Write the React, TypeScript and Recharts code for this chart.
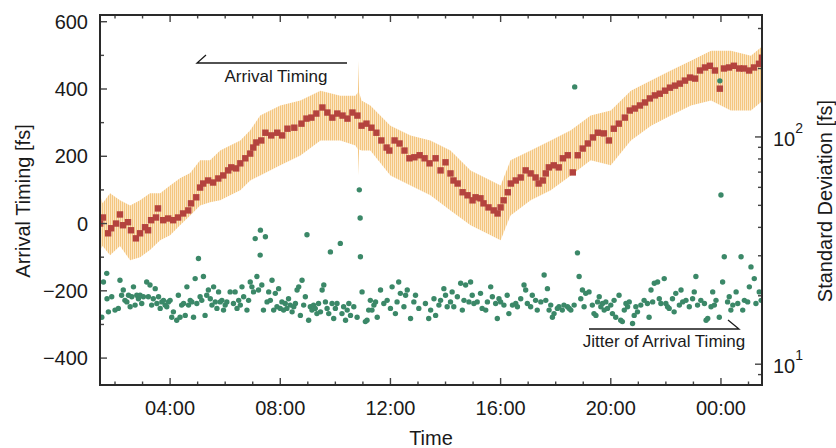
import React from "react";
import { ComposedChart, Area, Scatter, XAxis, YAxis } from "recharts";

// arrival timing (averaged), hours since midnight / fs
const timingHours = [
  1.46, 1.56, 1.75, 1.86, 2.04, 2.18, 2.29, 2.47, 2.58, 2.76, 2.91, 3.09, 3.2, 3.31, 3.49, 3.56, 3.75, 3.93,
  4.11, 4.29, 4.47, 4.66, 4.76, 4.95, 5.09, 5.2, 5.38, 5.56, 5.75, 5.93, 6.11, 6.22, 6.4, 6.55, 6.73, 6.91,
  7.02, 7.13, 7.31, 7.46, 7.67, 7.89, 8.07, 8.26, 8.51, 8.77, 8.95, 9.13, 9.31, 9.53, 9.71, 9.89, 10.07,
  10.26, 10.44, 10.62, 10.8, 10.95, 11.13, 11.31, 11.49, 11.67, 11.86, 11.96, 12.15, 12.33, 12.51, 12.69,
  12.87, 13.06, 13.24, 13.42, 13.64, 13.82, 14.0, 14.18, 14.29, 14.44, 14.62, 14.8, 14.98, 15.09, 15.27,
  15.38, 15.56, 15.75, 15.89, 16.0, 16.11, 16.26, 16.37, 16.55, 16.73, 16.91, 17.09, 17.27, 17.38, 17.53,
  17.64, 17.75, 17.93, 18.11, 18.26, 18.44, 18.62, 18.8, 18.98, 19.17, 19.35, 19.53, 19.75, 19.93, 20.11,
  20.29, 20.51, 20.69, 20.87, 21.06, 21.24, 21.42, 21.6, 21.78, 21.97, 22.15, 22.33, 22.51, 22.69, 22.88,
  23.06, 23.24, 23.42, 23.6, 23.78, 23.96, 24.11, 24.29, 24.47, 24.66, 24.84, 25.02, 25.2, 25.38, 25.49,
];
const timingFs = [
  0, 18, -29, -14, 0, 27, -5, 4, -20, -44, -29, -11, -20, 10, 18, 45, 10, 15,
  10, 18, 30, 39, 60, 78, 107, 119, 128, 122, 134, 143, 158, 167, 164, 179, 194, 208,
  226, 241, 247, 270, 262, 270, 262, 282, 285, 297, 312, 315, 327, 345, 330, 315, 327,
  321, 312, 330, 321, 291, 297, 285, 270, 247, 226, 217, 247, 238, 217, 194,
  197, 203, 194, 179, 194, 158, 182, 149, 128, 119, 93, 84, 69, 78, 75,
  60, 48, 39, 30, 48, 69, 93, 119, 128, 137, 158, 149, 137, 119, 128,
  149, 167, 173, 167, 194, 203, 152, 203, 223, 238, 256, 270, 268, 247, 282,
  297, 315, 336, 342, 351, 360, 372, 381, 386, 395, 404, 410, 416, 425, 434,
  431, 455, 464, 469, 455, 401, 461, 464, 469, 461, 461, 455, 464, 475, 493,
];

// spread of the raw arrival timing samples
const bandHours = [
  1.46, 1.55, 1.82, 2.18, 2.55, 2.91, 3.27, 3.64, 4.0, 4.36, 4.73, 5.09, 5.45, 5.82, 6.18, 6.55, 6.91,
  7.27, 8.0, 8.73, 9.46, 10.18, 10.73, 10.82, 10.84, 10.86, 10.95,
  11.27, 12.0, 12.73, 13.45, 14.18, 14.91, 15.64, 16.0, 16.36, 17.09, 17.82, 18.55, 19.27, 20.0, 20.73,
  21.46, 22.18, 22.91, 23.64, 24.36, 25.09, 25.53,
];
const bandLow = [
  -79, -67, -94, -67, -109, -100, -79, -50, -35, -5, 24, 54, 63, 69, 84, 99, 128,
  143, 173, 202, 247, 247, 232, 220, 143, 220, 217,
  217, 143, 113, 84, 39, -5, -35, -50, 24, 69, 99, 143, 188, 173, 247,
  291, 321, 351, 366, 336, 336, 366,
];
const bandHigh = [
  84, 60, 90, 69, 54, 69, 90, 90, 113, 135, 150, 188, 188, 217, 232, 247, 277,
  321, 351, 366, 395, 380, 380, 390, 484, 390, 366,
  351, 291, 262, 247, 217, 158, 128, 113, 188, 217, 247, 277, 321, 336, 395,
  425, 455, 484, 514, 514, 499, 529,
];

// jitter (standard deviation), hours / fs
const jitterHours = [
  1.52, 1.58, 1.7, 1.71, 1.76, 1.88, 2.0, 2.12, 2.18, 2.24, 2.3, 2.36, 2.43, 2.49, 2.55, 2.61, 2.67, 2.73,
  2.79, 2.85, 2.91, 2.97, 3.03, 3.15, 3.21, 3.27, 3.33, 3.39, 3.46, 3.52, 3.58, 3.64, 3.7, 3.76, 3.82, 3.88,
  3.94, 4.0, 4.06, 4.12, 4.24, 4.3, 4.36, 4.42, 4.49, 4.55, 4.61, 4.67, 4.73, 4.79, 4.85, 4.91, 4.97, 5.03,
  5.09, 5.15, 5.21, 5.27, 5.33, 5.39, 5.46, 5.52, 5.58, 5.64, 5.7, 5.76, 5.82, 5.88, 5.94, 6.0, 6.06, 6.18,
  6.3, 6.36, 6.43, 6.49, 6.55, 6.61, 6.67, 6.79, 6.85, 6.91, 6.97, 7.03, 7.09, 7.15, 7.21, 7.27, 7.28, 7.33,
  7.39, 7.46, 7.52, 7.58, 7.64, 7.7, 7.76, 7.82, 7.88, 7.94, 8.0, 8.06, 8.12, 8.18, 8.24, 8.3, 8.36, 8.43,
  8.49, 8.55, 8.61, 8.67, 8.73, 8.79, 8.85, 8.91, 8.97, 9.03, 9.09, 9.15, 9.21, 9.27, 9.33, 9.39, 9.46,
  9.52, 9.58, 9.64, 9.7, 9.76, 9.82, 9.88, 9.94, 10.0, 10.06, 10.18, 10.24, 10.3, 10.37, 10.43, 10.49,
  10.55, 10.67, 10.79, 10.87, 10.9, 10.91, 10.97, 11.09, 11.15, 11.21, 11.27, 11.33, 11.4, 11.46, 11.52,
  11.64, 11.76, 11.88, 12.0, 12.06, 12.18, 12.24, 12.3, 12.36, 12.49, 12.55, 12.61, 12.73, 12.85, 12.91,
  13.03, 13.27, 13.39, 13.46, 13.58, 13.64, 13.76, 13.82, 13.94, 14.0, 14.06, 14.18, 14.24, 14.3, 14.43,
  14.55, 14.61, 14.67, 14.73, 14.85, 14.91, 14.97, 15.03, 15.15, 15.27, 15.33, 15.46, 15.52, 15.64, 15.7,
  15.82, 15.88, 15.94, 16.0, 16.12, 16.24, 16.3, 16.43, 16.55, 16.61, 16.73, 16.85, 16.91, 16.97, 17.09,
  17.15, 17.27, 17.33, 17.46, 17.58, 17.64, 17.7, 17.76, 17.82, 17.88, 17.94, 18.06, 18.12, 18.24, 18.3,
  18.43, 18.49, 18.55, 18.67, 18.69, 18.79, 18.85, 18.91, 18.97, 19.03, 19.09, 19.21, 19.33, 19.39, 19.46,
  19.52, 19.58, 19.64, 19.7, 19.76, 19.82, 19.88, 20.0, 20.06, 20.12, 20.18, 20.3, 20.36, 20.42, 20.49,
  20.55, 20.61, 20.67, 20.79, 20.85, 20.91, 20.97, 21.09, 21.21, 21.33, 21.39, 21.46, 21.52, 21.58, 21.7,
  21.76, 21.82, 21.94, 22.0, 22.06, 22.12, 22.24, 22.3, 22.36, 22.49, 22.55, 22.61, 22.73, 22.85, 22.97,
  23.03, 23.09, 23.15, 23.27, 23.4, 23.46, 23.52, 23.64, 23.7, 23.76, 23.82, 23.94, 23.96, 24.0, 24.06,
  24.12, 24.24, 24.3, 24.36, 24.43, 24.55, 24.61, 24.73, 24.79, 24.85, 24.97, 25.03, 25.09, 25.21, 25.27,
  25.39, 25.46,
];
const jitterFs = [
  16.1, 23.0, 25.1, 19.4, 17.0, 19.8, 17.3, 17.6, 23.4, 20.1, 21.2, 19.1, 18.8, 20.1, 17.9, 19.8, 21.9, 18.2,
  20.1, 19.4, 20.1, 18.5, 19.8, 23.0, 19.8, 22.3, 18.2, 19.4, 21.5, 18.5, 19.8, 17.6, 18.8, 19.1, 18.2, 17.9,
  18.8, 19.1, 16.1, 17.0, 15.6, 20.1, 16.1, 18.2, 18.5, 16.4, 21.9, 18.2, 19.1, 18.8, 16.1, 23.8, 18.5, 29.2,
  19.8, 19.1, 24.3, 16.4, 20.1, 21.2, 19.4, 18.2, 21.9, 18.8, 17.6, 20.8, 18.8, 19.1, 17.3, 18.2, 18.8, 20.8,
  18.5, 20.8, 17.6, 19.1, 18.2, 21.9, 19.8, 17.3, 19.1, 23.0, 21.9, 20.8, 35.7, 24.3, 21.2, 30.2, 38.9, 22.3,
  17.3, 36.4, 18.8, 20.8, 19.1, 23.4, 17.3, 20.5, 17.9, 21.5, 17.6, 18.8, 17.3, 18.5, 17.6, 19.4, 18.2, 17.0,
  17.9, 18.5, 21.2, 21.9, 16.4, 23.4, 18.2, 19.8, 37.1, 15.6, 17.9, 17.3, 18.2, 17.6, 16.7, 18.5, 17.0,
  21.2, 22.3, 18.8, 17.6, 16.7, 31.2, 18.5, 15.9, 17.6, 18.5, 34.0, 16.7, 17.9, 15.6, 17.3, 18.5,
  16.4, 17.9, 16.1, 58.5, 44.0, 29.7, 20.8, 15.4, 15.6, 17.3, 19.1, 17.3, 18.2, 18.8, 16.1,
  21.2, 18.5, 19.1, 17.6, 21.9, 16.7, 18.8, 23.0, 20.5, 17.9, 20.1, 21.2, 15.9, 18.8, 20.1,
  17.6, 18.5, 15.9, 17.3, 19.4, 16.4, 18.2, 19.1, 21.5, 20.1, 17.9, 18.8, 20.8, 17.9, 19.8,
  22.7, 17.3, 19.1, 22.3, 18.8, 23.0, 20.1, 18.5, 18.8, 20.5, 17.6, 17.3, 18.8, 21.9, 19.8,
  18.5, 15.9, 19.4, 18.8, 18.2, 20.1, 16.7, 18.2, 18.5, 17.9, 19.4, 22.3, 21.2, 18.5, 17.9,
  20.1, 19.1, 17.3, 18.8, 24.7, 19.1, 21.5, 17.3, 18.2, 16.1, 16.7, 17.6, 17.9, 17.3, 18.2,
  17.9, 17.6, 17.3, 18.2, 166, 30.9, 24.3, 19.4, 21.2, 17.9, 20.5, 20.8, 18.2, 16.7, 16.4,
  18.8, 19.8, 17.9, 18.5, 17.3, 18.8, 17.6, 18.2, 16.7, 19.1, 16.1, 20.1, 15.6, 15.4, 17.3,
  18.5, 17.9, 18.8, 15.1, 16.4, 17.9, 17.0, 18.2, 19.1, 18.5, 16.1, 21.2, 18.8, 22.7, 23.0,
  19.4, 18.5, 23.8, 18.5, 17.9, 17.6, 19.4, 17.0, 20.5, 18.2, 21.2, 18.8, 19.1, 17.9, 19.4,
  20.8, 24.3, 18.2, 19.1, 18.5, 15.6, 15.9, 17.9, 20.8, 18.2, 19.1, 16.1, 176.5, 55.5, 23.0,
  29.7, 18.8, 19.8, 17.3, 18.2, 20.8, 18.5, 29.7, 17.3, 19.1, 18.8, 21.9, 26.8, 23.8, 18.5,
  20.8, 19.1,
];

const hourTicks = [2, 3, 4, 5, 6, 7, 8, 9, 10, 11, 12, 13, 14, 15, 16, 17, 18, 19, 20, 21, 22, 23, 24, 25];
const majorHours = [4, 8, 12, 16, 20, 24];
const timingTicks = [-400, -300, -200, -100, 0, 100, 200, 300, 400, 500, 600];
const timingLabelled = [-400, -200, 0, 200, 400, 600];
const jitterTicks = [9, 10, 20, 30, 40, 50, 60, 70, 80, 90, 100, 200, 300];
const jitterLabelled = [10, 100];

const timingData = timingHours.map((t, i) => ({ t, v: timingFs[i] }));
const bandData = bandHours.map((t, i) => ({ t, lo: bandLow[i], hi: bandHigh[i] }));
const jitterData = jitterHours.map((t, i) => ({ t, s: jitterFs[i] }));

const FONT = "'Liberation Sans', Arial, Helvetica, sans-serif";
const INK = "#1a1a1a";
const TICK = "#444";
const PLOT_H = 370;

const hh = (h: number) => String(h % 24).padStart(2, "0") + ":00";

function TimeTick({ x, y, payload }: any) {
  const major = majorHours.includes(payload.value);
  const len = major ? 7 : 3.5;
  return (
    <g>
      <line x1={x} x2={x} y1={y} y2={y - len} stroke={TICK} strokeWidth={1.4} />
      <line x1={x} x2={x} y1={y - PLOT_H} y2={y - PLOT_H + len} stroke={TICK} strokeWidth={1.4} />
      {major && (
        <text x={x} y={y + 30} textAnchor="middle" fontFamily={FONT} fontSize={20} fill={INK}>
          {hh(payload.value)}
        </text>
      )}
    </g>
  );
}

function TimingTick({ x, y, payload }: any) {
  const major = timingLabelled.includes(payload.value);
  const v = payload.value;
  return (
    <g>
      <line x1={x} x2={x + (major ? 7 : 4)} y1={y} y2={y} stroke={TICK} strokeWidth={1.4} />
      {major && (
        <text x={x - 12} y={y + 7} textAnchor="end" fontFamily={FONT} fontSize={20} fill={INK}>
          {v < 0 ? "\u2212" + Math.abs(v) : v}
        </text>
      )}
    </g>
  );
}

function JitterTick({ x, y, payload }: any) {
  const major = jitterLabelled.includes(payload.value);
  return (
    <g>
      <line x1={x} x2={x - (major ? 7 : 4)} y1={y} y2={y} stroke={TICK} strokeWidth={1.4} />
      {major && (
        <text x={x + 11} y={y + 9} fontFamily={FONT} fontSize={20} fill={INK}>
          10
          <tspan fontSize={14} dy={-13}>
            {Math.round(Math.log10(payload.value))}
          </tspan>
        </text>
      )}
    </g>
  );
}

function RedSquare({ cx, cy }: any) {
  return <rect x={cx - 3.2} y={cy - 3.2} width={6.4} height={6.4} fill="#b4433e" />;
}

function GreenDot({ cx, cy }: any) {
  return <circle cx={cx} cy={cy} r={2.7} fill="#3b8868" />;
}

export default function App() {
  return (
    <div style={{ position: "absolute", left: 0, top: 0, width: 836, height: 448, background: "#fff" }}>
      <svg width={0} height={0} style={{ position: "absolute" }}>
        <defs>
          <pattern id="rawStreaks" width={2} height={3} patternUnits="userSpaceOnUse">
            <rect width={2} height={3} fill="#fbe6c4" />
            <rect width={1} height={3} fill="#f4c680" />
          </pattern>
        </defs>
      </svg>
      <ComposedChart width={836} height={448} margin={{ top: 15, right: 0, bottom: 0, left: 0 }}>
        <XAxis
          dataKey="t"
          type="number"
          domain={[1.455, 25.49]}
          allowDataOverflow
          ticks={hourTicks}
          interval={0}
          height={63}
          tickSize={0}
          tickMargin={0}
          axisLine={false}
          tick={<TimeTick />}
        />
        <YAxis
          yAxisId="left"
          dataKey="v"
          type="number"
          domain={[-480, 620]}
          allowDataOverflow
          ticks={timingTicks}
          interval={0}
          width={100}
          tickSize={0}
          tickMargin={0}
          axisLine={false}
          tick={<TimingTick />}
        />
        <YAxis
          yAxisId="right"
          orientation="right"
          dataKey="s"
          type="number"
          scale="log"
          domain={[8.1, 344]}
          allowDataOverflow
          ticks={jitterTicks}
          interval={0}
          width={74}
          tickSize={0}
          tickMargin={0}
          axisLine={false}
          tick={<JitterTick />}
        />
        <Area
          yAxisId="left"
          data={bandData}
          dataKey={(d: any) => [d.lo, d.hi]}
          type="linear"
          stroke="none"
          fill="url(#rawStreaks)"
          fillOpacity={1}
          isAnimationActive={false}
        />
        <Scatter yAxisId="left" data={timingData} shape={<RedSquare />} isAnimationActive={false} />
        <Scatter yAxisId="right" data={jitterData} shape={<GreenDot />} isAnimationActive={false} />
      </ComposedChart>
      <svg
        width={836}
        height={448}
        style={{ position: "absolute", left: 0, top: 0, pointerEvents: "none" }}
      >
        <rect x={100} y={15} width={662} height={370} fill="none" stroke="#2a2a2a" strokeWidth={2} />
        <text
          transform="translate(30,201) rotate(-90)"
          textAnchor="middle"
          fontFamily={FONT}
          fontSize={20}
          fill={INK}
        >
          Arrival Timing [fs]
        </text>
        <text
          transform="translate(832,201) rotate(-90)"
          textAnchor="middle"
          fontFamily={FONT}
          fontSize={20}
          fill={INK}
        >
          Standard Deviation [fs]
        </text>
        <text x={431} y={445} textAnchor="middle" fontFamily={FONT} fontSize={20} fill={INK}>
          Time
        </text>
        <polyline points="206,55 197,63 347,63" fill="none" stroke={INK} strokeWidth={1.3} />
        <text x={276} y={82} textAnchor="middle" fontFamily={FONT} fontSize={17} fill={INK}>
          Arrival Timing
        </text>
        <polyline points="589,329 739,329 728,320" fill="none" stroke={INK} strokeWidth={1.3} />
        <text x={664} y={347} textAnchor="middle" fontFamily={FONT} fontSize={17} fill={INK}>
          Jitter of Arrival Timing
        </text>
      </svg>
    </div>
  );
}
